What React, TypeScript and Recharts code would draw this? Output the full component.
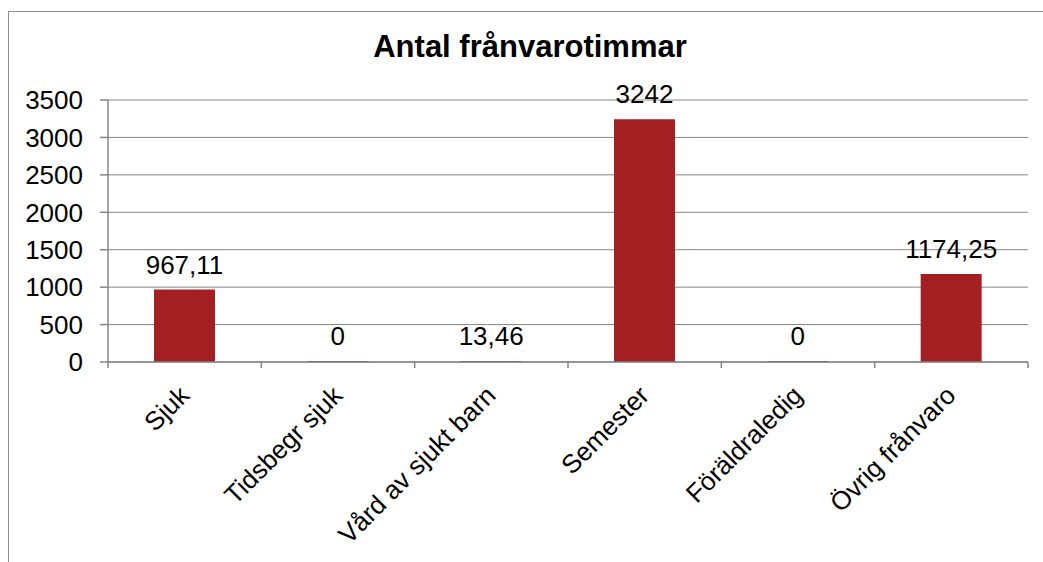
import React from "react";
import {
  BarChart,
  Bar,
  XAxis,
  YAxis,
  CartesianGrid,
  LabelList,
} from "recharts";

const categories = [
  "Sjuk",
  "Tidsbegr sjuk",
  "Vård av sjukt barn",
  "Semester",
  "Föräldraledig",
  "Övrig frånvaro",
];

const hours = [967.11, 0, 13.46, 3242, 0, 1174.25];

const yTicks = [0, 500, 1000, 1500, 2000, 2500, 3000, 3500];

const data = categories.map((name, i) => ({
  name,
  hours: hours[i],
}));

const FONT = "'Liberation Sans', Arial, sans-serif";
const GRID = "#868686";
const FS = 26;

const fmt = (v: any) => String(v).replace(".", ",");

// zero bars get a 1px stub so their "0" label still shows
const stub = (v: any) => (v === 0 ? 1 : 0);

const CategoryTick = (props: any) => {
  const { x, y, payload, index, visibleTicksCount } = props;
  const half = payload && payload.offset ? payload.offset : 76.67;
  const tx = x + 6;
  const ty = y + 35;
  return (
    <g>
      <line
        x1={x - half}
        x2={x - half}
        y1={y}
        y2={y + 6}
        stroke={GRID}
        strokeWidth={1.5}
      />
      {index === visibleTicksCount - 1 && (
        <line
          x1={x + half}
          x2={x + half}
          y1={y}
          y2={y + 6}
          stroke={GRID}
          strokeWidth={1.5}
        />
      )}
      <text
        x={tx}
        y={ty}
        textAnchor="end"
        transform={`rotate(-45, ${tx}, ${ty})`}
        fontSize={FS}
        fontFamily={FONT}
        fill="#000"
      >
        {payload.value}
      </text>
    </g>
  );
};

export default function App() {
  return (
    <div
      style={{
        position: "absolute",
        left: 0,
        top: 0,
        width: 1043,
        height: 562,
        overflow: "hidden",
        background: "#fff",
      }}
    >
      <div
        style={{
          position: "absolute",
          left: 8,
          top: 11,
          width: 1100,
          height: 600,
          border: "1.5px solid #8c8c8c",
          boxSizing: "border-box",
        }}
      />
      <div
        style={{
          position: "absolute",
          left: 0,
          width: 1060,
          top: 27,
          textAlign: "center",
          fontFamily: FONT,
          fontWeight: "bold",
          fontSize: 31,
          lineHeight: "40px",
          color: "#000",
        }}
      >
        Antal frånvarotimmar
      </div>
      <div style={{ position: "absolute", left: 0, top: 0 }}>
        <BarChart
          width={1043}
          height={562}
          data={data}
          margin={{ top: 100, right: 15, bottom: 10, left: 8 }}
          barCategoryGap="30%"
        >
          <CartesianGrid vertical={false} stroke={GRID} strokeWidth={1} />
          <Bar
            dataKey="hours"
            fill="#A31F22"
            minPointSize={stub}
            isAnimationActive={false}
          >
            <LabelList
              dataKey="hours"
              position="top"
              offset={16}
              formatter={fmt}
              style={{ fontSize: FS, fontFamily: FONT, fill: "#000" }}
            />
          </Bar>
          <XAxis
            dataKey="name"
            interval={0}
            height={190}
            tickSize={0}
            tickMargin={0}
            tickLine={false}
            axisLine={{ stroke: GRID, strokeWidth: 1.5 }}
            tick={<CategoryTick />}
          />
          <YAxis
            width={100}
            domain={[0, 3500]}
            ticks={yTicks}
            interval={0}
            tickSize={8}
            tickMargin={17}
            axisLine={{ stroke: GRID, strokeWidth: 1.5 }}
            tickLine={{ stroke: GRID, strokeWidth: 1.5 }}
            tick={{ fontSize: FS, fontFamily: FONT, fill: "#000" }}
          />
        </BarChart>
      </div>
    </div>
  );
}
